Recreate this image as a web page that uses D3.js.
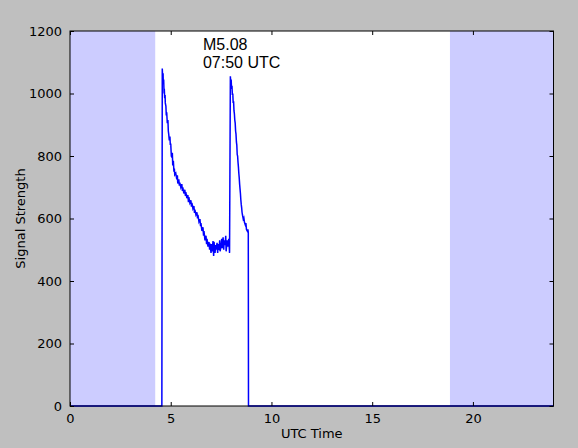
<!DOCTYPE html>
<html><head><meta charset="utf-8">
<script src="https://cdn.jsdelivr.net/npm/d3@7"></script>
<style>body{margin:0;background:#bfbfbf;}svg{display:block;}</style>
</head><body>
<svg id="c" width="578" height="448"></svg>
<script>
const xTicks = [0,5,10,15,20];
const yTicks = [0,200,400,600,800,1000,1200];
const shaded = [[0,4.23],[18.86,24]];
const annotation = ["M5.08","07:50 UTC"];
const annotationAt = [6.6, 1138];
// [UTC hour, signal strength]
const firstFlare = [[0,0],[4.56,0],[4.58,1080],[4.60,1050],[4.62,1065],[4.63,1030],[4.65,1045],[4.67,1000],[4.68,1015],[4.70,985],[4.72,995],[4.73,970],[4.76,960],[4.78,930],[4.80,940],[4.83,905],[4.86,915],[4.88,880],[4.90,870],[4.93,850],[4.96,862],[4.98,835],[5.00,840],[5.03,800],[5.06,795],[5.08,810],[5.10,770],[5.13,785],[5.16,750],[5.18,760],[5.20,740],[5.25,745],[5.30,725],[5.33,738],[5.35,712],[5.40,725],[5.43,705],[5.45,715],[5.50,700],[5.55,710],[5.58,688],[5.60,700],[5.65,680],[5.70,692],[5.73,672],[5.75,684],[5.80,665],[5.85,675],[5.88,652],[5.90,668],[5.95,650],[6.00,658],[6.03,638],[6.05,650],[6.10,632],[6.15,640],[6.18,618],[6.20,628],[6.25,612],[6.30,620],[6.33,600],[6.35,612],[6.40,590],[6.45,598],[6.48,575],[6.50,585],[6.55,560],[6.60,572],[6.63,545],[6.65,560],[6.70,530],[6.75,545],[6.78,518],[6.80,535],[6.85,510],[6.90,525],[6.93,500],[6.95,520],[7.00,490],[7.03,518],[7.05,495],[7.10,528],[7.13,480],[7.15,525],[7.20,490],[7.23,515],[7.25,500],[7.30,522],[7.33,490],[7.35,518],[7.40,500],[7.43,530],[7.45,495],[7.50,512],[7.53,535],[7.55,505],[7.60,540],[7.63,500],[7.65,530],[7.70,515],[7.73,545],[7.75,495],[7.80,530],[7.84,510],[7.88,535],[7.92,490]];
const secondFlare = [[7.96,1055],[7.98,1035],[8.00,1045],[8.02,1015],[8.04,1025],[8.06,995],[8.08,1000],[8.10,970],[8.12,975],[8.14,945],[8.16,935],[8.18,915],[8.20,905],[8.22,880],[8.24,870],[8.26,845],[8.28,835],[8.30,805],[8.32,800],[8.34,780],[8.36,765],[8.38,745],[8.40,730],[8.42,710],[8.44,695],[8.46,680],[8.48,660],[8.50,645],[8.52,635],[8.54,620],[8.56,612],[8.58,605],[8.60,598],[8.63,602],[8.66,588],[8.70,580],[8.73,585],[8.76,565],[8.80,560],[8.83,565],[8.85,555],[8.86,0],[24,0]];

const svg = d3.select("#c");
const L=70, R=553.5, T=31, B=406;
const x = d3.scaleLinear().domain([0,24]).range([L,R]);
const y = d3.scaleLinear().domain([0,1200]).range([B,T]);

svg.append("rect").attr("x",L).attr("y",T).attr("width",R-L).attr("height",B-T).attr("fill","#fff");
svg.selectAll("rect.sh").data(shaded).enter().append("rect").attr("class","sh")
  .attr("x",d=>x(d[0])).attr("width",d=>x(d[1])-x(d[0])).attr("y",T).attr("height",B-T).attr("fill","#ccccff");

const pts = firstFlare.concat(secondFlare);
svg.append("path").datum(pts).attr("fill","none").attr("stroke","#0000ff").attr("stroke-width",1.5)
  .attr("d", d3.line().x(d=>x(d[0])).y(d=>y(d[1])));

svg.append("text").attr("x",x(annotationAt[0])).attr("y",y(annotationAt[1])).attr("font-family","Liberation Sans, Arial").attr("font-size",16).attr("fill","#000")
  .selectAll("tspan").data(annotation).enter().append("tspan").attr("x",x(annotationAt[0])).attr("dy",(d,i)=>i?18:0).text(d=>d);

const font = "DejaVu Sans";
const fmt = d3.format("d");
const ax = d3.axisBottom(x).tickValues(xTicks).tickFormat(fmt).tickSizeInner(-4).tickSizeOuter(0).tickPadding(8);
const gx = svg.append("g").attr("transform",`translate(0,${B})`).call(ax);
const axT = d3.axisTop(x).tickValues(xTicks).tickSizeInner(-4).tickSizeOuter(0).tickFormat("");
const gxt = svg.append("g").attr("transform",`translate(0,${T})`).call(axT);
const ay = d3.axisLeft(y).tickValues(yTicks).tickFormat(fmt).tickSizeInner(-4).tickSizeOuter(0).tickPadding(8);
const gy = svg.append("g").attr("transform",`translate(${L},0)`).call(ay);
const ayR = d3.axisRight(y).tickValues(yTicks).tickSizeInner(-4).tickSizeOuter(0).tickFormat("");
const gyr = svg.append("g").attr("transform",`translate(${R},0)`).call(ayR);
[gx,gxt,gy,gyr].forEach(g=>{g.select(".domain").remove();g.selectAll("line").attr("stroke","#000");
  g.selectAll("text").attr("font-family",font).attr("font-size",13).attr("fill","#000");});

svg.append("rect").attr("x",L).attr("y",T).attr("width",R-L).attr("height",B-T).attr("fill","none").attr("stroke","#000").attr("stroke-width",1);

svg.append("text").attr("x",(L+R)/2).attr("y",438).attr("text-anchor","middle").attr("font-family",font).attr("font-size",13).text("UTC Time");
svg.append("text").attr("transform",`translate(25,${(T+B)/2}) rotate(-90)`).attr("text-anchor","middle").attr("font-family",font).attr("font-size",13).text("Signal Strength");
</script>
</body></html>
